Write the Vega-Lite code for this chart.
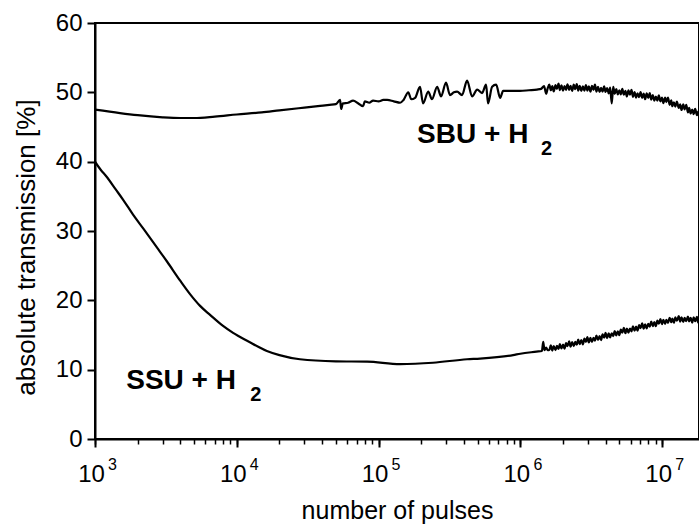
{
  "$schema": "https://vega.github.io/schema/vega-lite/v6.json",
  "width": 604,
  "height": 416,
  "autosize": "none",
  "padding": {"left": 95, "top": 23, "right": 0, "bottom": 85},
  "background": "white",
  "config": {
    "font": "Liberation Sans",
    "view": {"stroke": "black", "strokeWidth": 2},
    "axis": {"grid": false, "domainColor": "black", "domainWidth": 2, "tickColor": "black", "labelColor": "black", "titleColor": "black", "titleFontWeight": "normal"}
  },
  "datasets": {
    "curves": [
      {"series":"SBU","pulses":1000,"transmission":47.5},
      {"series":"SBU","pulses":1500,"transmission":47.0},
      {"series":"SBU","pulses":2000,"transmission":46.7},
      {"series":"SBU","pulses":3000,"transmission":46.4},
      {"series":"SBU","pulses":4000,"transmission":46.3},
      {"series":"SBU","pulses":5000,"transmission":46.3},
      {"series":"SBU","pulses":7000,"transmission":46.5},
      {"series":"SBU","pulses":10000,"transmission":46.8},
      {"series":"SBU","pulses":15000,"transmission":47.1},
      {"series":"SBU","pulses":20000,"transmission":47.4},
      {"series":"SBU","pulses":30000,"transmission":47.8},
      {"series":"SBU","pulses":38700,"transmission":48.05},
      {"series":"SBU","pulses":45000,"transmission":48.2},
      {"series":"SBU","pulses":50000,"transmission":48.3},
      {"series":"SBU","pulses":53500,"transmission":48.9},
      {"series":"SBU","pulses":54500,"transmission":47.6},
      {"series":"SBU","pulses":56000,"transmission":48.4},
      {"series":"SBU","pulses":61000,"transmission":48.5},
      {"series":"SBU","pulses":66100,"transmission":48.8},
      {"series":"SBU","pulses":72000,"transmission":48.4},
      {"series":"SBU","pulses":77800,"transmission":48.0},
      {"series":"SBU","pulses":80000,"transmission":48.7},
      {"series":"SBU","pulses":86000,"transmission":48.5},
      {"series":"SBU","pulses":91500,"transmission":48.8},
      {"series":"SBU","pulses":100000,"transmission":48.7},
      {"series":"SBU","pulses":108000,"transmission":48.9},
      {"series":"SBU","pulses":115000,"transmission":48.9},
      {"series":"SBU","pulses":128000,"transmission":48.7},
      {"series":"SBU","pulses":142000,"transmission":48.5},
      {"series":"SBU","pulses":150000,"transmission":48.9},
      {"series":"SBU","pulses":162000,"transmission":50.0},
      {"series":"SBU","pulses":170000,"transmission":49.0},
      {"series":"SBU","pulses":181000,"transmission":49.2},
      {"series":"SBU","pulses":196000,"transmission":50.8},
      {"series":"SBU","pulses":206000,"transmission":48.4},
      {"series":"SBU","pulses":224000,"transmission":50.1},
      {"series":"SBU","pulses":238000,"transmission":49.0},
      {"series":"SBU","pulses":259000,"transmission":50.8},
      {"series":"SBU","pulses":276000,"transmission":49.4},
      {"series":"SBU","pulses":299000,"transmission":51.4},
      {"series":"SBU","pulses":319000,"transmission":49.6},
      {"series":"SBU","pulses":340000,"transmission":50.0},
      {"series":"SBU","pulses":358000,"transmission":50.1},
      {"series":"SBU","pulses":388000,"transmission":49.6},
      {"series":"SBU","pulses":421000,"transmission":51.7},
      {"series":"SBU","pulses":457000,"transmission":49.4},
      {"series":"SBU","pulses":496000,"transmission":50.4},
      {"series":"SBU","pulses":537000,"transmission":49.9},
      {"series":"SBU","pulses":573000,"transmission":51.1},
      {"series":"SBU","pulses":592000,"transmission":48.4},
      {"series":"SBU","pulses":632000,"transmission":50.8},
      {"series":"SBU","pulses":675000,"transmission":51.1},
      {"series":"SBU","pulses":720000,"transmission":49.2},
      {"series":"SBU","pulses":756000,"transmission":50.2},
      {"series":"SBU","pulses":850000,"transmission":50.2},
      {"series":"SBU","pulses":995000,"transmission":50.2},
      {"series":"SBU","pulses":1150000,"transmission":50.3},
      {"series":"SBU","pulses":1310000,"transmission":50.4},
      {"series":"SBU","pulses":1400000,"transmission":50.5},
      {"series":"SBU","pulses":1470000,"transmission":50.9},
      {"series":"SBU","pulses":1520000,"transmission":49.8},
      {"series":"SBU","pulses":1560000,"transmission":50.6},
      {"series":"SBU","pulses":1600000,"transmission":51.1},
      {"series":"SBU","pulses":1640000,"transmission":50.3},
      {"series":"SBU","pulses":1680000,"transmission":50.9},
      {"series":"SBU","pulses":1720000,"transmission":50.15},
      {"series":"SBU","pulses":1770000,"transmission":51.05},
      {"series":"SBU","pulses":1810000,"transmission":50.5},
      {"series":"SBU","pulses":1860000,"transmission":51.25},
      {"series":"SBU","pulses":1900000,"transmission":50.3},
      {"series":"SBU","pulses":1950000,"transmission":51.0},
      {"series":"SBU","pulses":2000000,"transmission":50.25},
      {"series":"SBU","pulses":2050000,"transmission":50.9},
      {"series":"SBU","pulses":2100000,"transmission":50.35},
      {"series":"SBU","pulses":2150000,"transmission":51.15},
      {"series":"SBU","pulses":2210000,"transmission":50.35},
      {"series":"SBU","pulses":2260000,"transmission":50.95},
      {"series":"SBU","pulses":2320000,"transmission":50.2},
      {"series":"SBU","pulses":2380000,"transmission":51.1},
      {"series":"SBU","pulses":2440000,"transmission":50.45},
      {"series":"SBU","pulses":2500000,"transmission":51.2},
      {"series":"SBU","pulses":2560000,"transmission":50.25},
      {"series":"SBU","pulses":2620000,"transmission":50.95},
      {"series":"SBU","pulses":2690000,"transmission":50.2},
      {"series":"SBU","pulses":2760000,"transmission":50.85},
      {"series":"SBU","pulses":2830000,"transmission":50.25},
      {"series":"SBU","pulses":2900000,"transmission":51.05},
      {"series":"SBU","pulses":2970000,"transmission":50.25},
      {"series":"SBU","pulses":3040000,"transmission":50.85},
      {"series":"SBU","pulses":3120000,"transmission":50.1},
      {"series":"SBU","pulses":3200000,"transmission":50.95},
      {"series":"SBU","pulses":3280000,"transmission":50.35},
      {"series":"SBU","pulses":3360000,"transmission":51.1},
      {"series":"SBU","pulses":3440000,"transmission":50.1},
      {"series":"SBU","pulses":3530000,"transmission":50.8},
      {"series":"SBU","pulses":3620000,"transmission":50.05},
      {"series":"SBU","pulses":3710000,"transmission":50.65},
      {"series":"SBU","pulses":3800000,"transmission":50.1},
      {"series":"SBU","pulses":3900000,"transmission":50.85},
      {"series":"SBU","pulses":3990000,"transmission":50.05},
      {"series":"SBU","pulses":4090000,"transmission":50.6},
      {"series":"SBU","pulses":4200000,"transmission":49.85},
      {"series":"SBU","pulses":4300000,"transmission":50.7},
      {"series":"SBU","pulses":4410000,"transmission":48.4},
      {"series":"SBU","pulses":4520000,"transmission":50.8},
      {"series":"SBU","pulses":4630000,"transmission":49.8},
      {"series":"SBU","pulses":4750000,"transmission":50.45},
      {"series":"SBU","pulses":4870000,"transmission":49.7},
      {"series":"SBU","pulses":4990000,"transmission":50.3},
      {"series":"SBU","pulses":5110000,"transmission":49.7},
      {"series":"SBU","pulses":5240000,"transmission":50.5},
      {"series":"SBU","pulses":5370000,"transmission":49.65},
      {"series":"SBU","pulses":5510000,"transmission":50.2},
      {"series":"SBU","pulses":5640000,"transmission":49.4},
      {"series":"SBU","pulses":5790000,"transmission":50.3},
      {"series":"SBU","pulses":5930000,"transmission":49.65},
      {"series":"SBU","pulses":6080000,"transmission":50.35},
      {"series":"SBU","pulses":6230000,"transmission":49.35},
      {"series":"SBU","pulses":6390000,"transmission":50.05},
      {"series":"SBU","pulses":6550000,"transmission":49.25},
      {"series":"SBU","pulses":6710000,"transmission":49.85},
      {"series":"SBU","pulses":6880000,"transmission":49.3},
      {"series":"SBU","pulses":7050000,"transmission":50.05},
      {"series":"SBU","pulses":7230000,"transmission":49.2},
      {"series":"SBU","pulses":7410000,"transmission":49.8},
      {"series":"SBU","pulses":7590000,"transmission":49.0},
      {"series":"SBU","pulses":7780000,"transmission":49.85},
      {"series":"SBU","pulses":7980000,"transmission":49.2},
      {"series":"SBU","pulses":8180000,"transmission":49.9},
      {"series":"SBU","pulses":8380000,"transmission":48.95},
      {"series":"SBU","pulses":8590000,"transmission":49.6},
      {"series":"SBU","pulses":8810000,"transmission":48.8},
      {"series":"SBU","pulses":9030000,"transmission":49.4},
      {"series":"SBU","pulses":9250000,"transmission":48.8},
      {"series":"SBU","pulses":9480000,"transmission":49.55},
      {"series":"SBU","pulses":9720000,"transmission":48.7},
      {"series":"SBU","pulses":9970000,"transmission":49.25},
      {"series":"SBU","pulses":10200000,"transmission":48.45},
      {"series":"SBU","pulses":10500000,"transmission":49.25},
      {"series":"SBU","pulses":10700000,"transmission":48.6},
      {"series":"SBU","pulses":11000000,"transmission":49.25},
      {"series":"SBU","pulses":11300000,"transmission":48.2},
      {"series":"SBU","pulses":11600000,"transmission":48.85},
      {"series":"SBU","pulses":11800000,"transmission":48.0},
      {"series":"SBU","pulses":12100000,"transmission":48.55},
      {"series":"SBU","pulses":12400000,"transmission":47.95},
      {"series":"SBU","pulses":12700000,"transmission":48.65},
      {"series":"SBU","pulses":13100000,"transmission":47.75},
      {"series":"SBU","pulses":13400000,"transmission":48.25},
      {"series":"SBU","pulses":13700000,"transmission":47.45},
      {"series":"SBU","pulses":14100000,"transmission":48.25},
      {"series":"SBU","pulses":14400000,"transmission":47.55},
      {"series":"SBU","pulses":14800000,"transmission":48.2},
      {"series":"SBU","pulses":15200000,"transmission":47.1},
      {"series":"SBU","pulses":15500000,"transmission":47.75},
      {"series":"SBU","pulses":15900000,"transmission":46.95},
      {"series":"SBU","pulses":16300000,"transmission":47.5},
      {"series":"SBU","pulses":16700000,"transmission":46.85},
      {"series":"SBU","pulses":17100000,"transmission":47.6},
      {"series":"SBU","pulses":17600000,"transmission":46.7},
      {"series":"SBU","pulses":18000000,"transmission":47.25},
      {"series":"SBU","pulses":18200000,"transmission":46.8},
      {"series":"SSU","pulses":1000,"transmission":40.0},
      {"series":"SSU","pulses":1100,"transmission":38.8},
      {"series":"SSU","pulses":1200,"transmission":37.9},
      {"series":"SSU","pulses":1400,"transmission":36.0},
      {"series":"SSU","pulses":1580,"transmission":34.5},
      {"series":"SSU","pulses":1850,"transmission":32.4},
      {"series":"SSU","pulses":2200,"transmission":30.3},
      {"series":"SSU","pulses":2740,"transmission":27.6},
      {"series":"SSU","pulses":3220,"transmission":25.6},
      {"series":"SSU","pulses":4000,"transmission":22.8},
      {"series":"SSU","pulses":4680,"transmission":20.9},
      {"series":"SSU","pulses":5510,"transmission":19.2},
      {"series":"SSU","pulses":6480,"transmission":17.9},
      {"series":"SSU","pulses":8000,"transmission":16.3},
      {"series":"SSU","pulses":9420,"transmission":15.3},
      {"series":"SSU","pulses":12000,"transmission":14.1},
      {"series":"SSU","pulses":16300,"transmission":12.7},
      {"series":"SSU","pulses":20000,"transmission":12.1},
      {"series":"SSU","pulses":27900,"transmission":11.5},
      {"series":"SSU","pulses":50000,"transmission":11.2},
      {"series":"SSU","pulses":83000,"transmission":11.15},
      {"series":"SSU","pulses":142000,"transmission":10.8},
      {"series":"SSU","pulses":242000,"transmission":11.0},
      {"series":"SSU","pulses":421000,"transmission":11.5},
      {"series":"SSU","pulses":520000,"transmission":11.6},
      {"series":"SSU","pulses":889000,"transmission":12.1},
      {"series":"SSU","pulses":1000000,"transmission":12.3},
      {"series":"SSU","pulses":1300000,"transmission":12.6},
      {"series":"SSU","pulses":1420000,"transmission":12.7},
      {"series":"SSU","pulses":1450000,"transmission":14.0},
      {"series":"SSU","pulses":1480000,"transmission":12.8},
      {"series":"SSU","pulses":1520000,"transmission":13.2},
      {"series":"SSU","pulses":1560000,"transmission":12.8},
      {"series":"SSU","pulses":1600000,"transmission":12.83},
      {"series":"SSU","pulses":1640000,"transmission":13.52},
      {"series":"SSU","pulses":1680000,"transmission":12.76},
      {"series":"SSU","pulses":1720000,"transmission":13.41},
      {"series":"SSU","pulses":1770000,"transmission":12.82},
      {"series":"SSU","pulses":1810000,"transmission":13.42},
      {"series":"SSU","pulses":1860000,"transmission":12.98},
      {"series":"SSU","pulses":1900000,"transmission":13.7},
      {"series":"SSU","pulses":1950000,"transmission":13.06},
      {"series":"SSU","pulses":2000000,"transmission":13.61},
      {"series":"SSU","pulses":2050000,"transmission":13.02},
      {"series":"SSU","pulses":2100000,"transmission":13.84},
      {"series":"SSU","pulses":2150000,"transmission":13.38},
      {"series":"SSU","pulses":2210000,"transmission":14.07},
      {"series":"SSU","pulses":2260000,"transmission":13.31},
      {"series":"SSU","pulses":2320000,"transmission":13.98},
      {"series":"SSU","pulses":2380000,"transmission":13.4},
      {"series":"SSU","pulses":2440000,"transmission":14.01},
      {"series":"SSU","pulses":2500000,"transmission":13.6},
      {"series":"SSU","pulses":2560000,"transmission":14.33},
      {"series":"SSU","pulses":2620000,"transmission":13.69},
      {"series":"SSU","pulses":2690000,"transmission":14.25},
      {"series":"SSU","pulses":2760000,"transmission":13.66},
      {"series":"SSU","pulses":2830000,"transmission":14.48},
      {"series":"SSU","pulses":2900000,"transmission":14.01},
      {"series":"SSU","pulses":2970000,"transmission":14.7},
      {"series":"SSU","pulses":3040000,"transmission":13.93},
      {"series":"SSU","pulses":3120000,"transmission":14.58},
      {"series":"SSU","pulses":3200000,"transmission":14.0},
      {"series":"SSU","pulses":3280000,"transmission":14.6},
      {"series":"SSU","pulses":3360000,"transmission":14.18},
      {"series":"SSU","pulses":3440000,"transmission":14.91},
      {"series":"SSU","pulses":3530000,"transmission":14.28},
      {"series":"SSU","pulses":3620000,"transmission":14.85},
      {"series":"SSU","pulses":3710000,"transmission":14.26},
      {"series":"SSU","pulses":3800000,"transmission":15.08},
      {"series":"SSU","pulses":3900000,"transmission":14.63},
      {"series":"SSU","pulses":3990000,"transmission":15.32},
      {"series":"SSU","pulses":4090000,"transmission":14.56},
      {"series":"SSU","pulses":4200000,"transmission":15.23},
      {"series":"SSU","pulses":4300000,"transmission":14.65},
      {"series":"SSU","pulses":4410000,"transmission":15.25},
      {"series":"SSU","pulses":4520000,"transmission":14.84},
      {"series":"SSU","pulses":4630000,"transmission":15.58},
      {"series":"SSU","pulses":4750000,"transmission":14.96},
      {"series":"SSU","pulses":4870000,"transmission":15.53},
      {"series":"SSU","pulses":4990000,"transmission":14.97},
      {"series":"SSU","pulses":5110000,"transmission":15.79},
      {"series":"SSU","pulses":5240000,"transmission":15.33},
      {"series":"SSU","pulses":5370000,"transmission":16.02},
      {"series":"SSU","pulses":5510000,"transmission":15.26},
      {"series":"SSU","pulses":5640000,"transmission":15.92},
      {"series":"SSU","pulses":5790000,"transmission":15.34},
      {"series":"SSU","pulses":5930000,"transmission":15.94},
      {"series":"SSU","pulses":6080000,"transmission":15.53},
      {"series":"SSU","pulses":6230000,"transmission":16.26},
      {"series":"SSU","pulses":6390000,"transmission":15.63},
      {"series":"SSU","pulses":6550000,"transmission":16.2},
      {"series":"SSU","pulses":6710000,"transmission":15.62},
      {"series":"SSU","pulses":6880000,"transmission":16.44},
      {"series":"SSU","pulses":7050000,"transmission":15.99},
      {"series":"SSU","pulses":7230000,"transmission":16.67},
      {"series":"SSU","pulses":7410000,"transmission":15.9},
      {"series":"SSU","pulses":7590000,"transmission":16.55},
      {"series":"SSU","pulses":7780000,"transmission":15.95},
      {"series":"SSU","pulses":7980000,"transmission":16.62},
      {"series":"SSU","pulses":8180000,"transmission":16.2},
      {"series":"SSU","pulses":8380000,"transmission":16.93},
      {"series":"SSU","pulses":8590000,"transmission":16.29},
      {"series":"SSU","pulses":8810000,"transmission":16.85},
      {"series":"SSU","pulses":9030000,"transmission":16.26},
      {"series":"SSU","pulses":9250000,"transmission":17.08},
      {"series":"SSU","pulses":9480000,"transmission":16.62},
      {"series":"SSU","pulses":9720000,"transmission":17.31},
      {"series":"SSU","pulses":9970000,"transmission":16.56},
      {"series":"SSU","pulses":10200000,"transmission":17.19},
      {"series":"SSU","pulses":10500000,"transmission":16.6},
      {"series":"SSU","pulses":10700000,"transmission":17.18},
      {"series":"SSU","pulses":11000000,"transmission":16.76},
      {"series":"SSU","pulses":11300000,"transmission":17.48},
      {"series":"SSU","pulses":11600000,"transmission":16.85},
      {"series":"SSU","pulses":11800000,"transmission":17.38},
      {"series":"SSU","pulses":12100000,"transmission":16.77},
      {"series":"SSU","pulses":12400000,"transmission":17.56},
      {"series":"SSU","pulses":12700000,"transmission":17.06},
      {"series":"SSU","pulses":13100000,"transmission":17.72},
      {"series":"SSU","pulses":13400000,"transmission":16.92},
      {"series":"SSU","pulses":13700000,"transmission":17.53},
      {"series":"SSU","pulses":14100000,"transmission":16.9},
      {"series":"SSU","pulses":14400000,"transmission":17.46},
      {"series":"SSU","pulses":14800000,"transmission":17.0},
      {"series":"SSU","pulses":15200000,"transmission":17.67},
      {"series":"SSU","pulses":15500000,"transmission":16.97},
      {"series":"SSU","pulses":15900000,"transmission":17.46},
      {"series":"SSU","pulses":16300000,"transmission":16.79},
      {"series":"SSU","pulses":16700000,"transmission":17.53},
      {"series":"SSU","pulses":17100000,"transmission":16.99},
      {"series":"SSU","pulses":17600000,"transmission":17.6},
      {"series":"SSU","pulses":18000000,"transmission":16.76},
      {"series":"SSU","pulses":18200000,"transmission":17.1}
    ],
    "labels": [
      {"pulses": 187000, "transmission": 42.7, "label": "SBU + H", "sub": "2"},
      {"pulses": 1660, "transmission": 7.2, "label": "SSU + H", "sub": "2"}
    ]
  },
  "layer": [
    {
      "data": {"name": "curves"},
      "mark": {"type": "line", "color": "black", "strokeWidth": 2.2, "clip": true, "interpolate": "monotone"},
      "encoding": {
        "x": {
          "field": "pulses", "type": "quantitative",
          "scale": {"type": "log", "domain": [1000, 18200000], "nice": false},
          "axis": {
            "orient": "bottom",
            "values": [1000, 10000, 100000, 1000000, 10000000],
            "labelExpr": "'10'",
            "tickSize": 8, "tickWidth": 2,
            "labelFontSize": 24, "labelPadding": 15, "labelOffset": -4, "labelFlush": false, "labelOverlap": false,
            "title": "number of pulses", "titleFontSize": 25, "titlePadding": 12
          }
        },
        "y": {
          "field": "transmission", "type": "quantitative",
          "scale": {"domain": [0, 60], "nice": false, "zero": false},
          "axis": {
            "values": [0, 10, 20, 30, 40, 50, 60],
            "tickSize": 8, "tickWidth": 2,
            "labelFontSize": 24, "labelPadding": 5,
            "title": "absolute transmission [%]", "titleFontSize": 26, "titlePadding": 16, "titleY": 224
          }
        },
        "detail": {"field": "series", "type": "nominal"}
      }
    },
    {
      "data": {"name": "labels"},
      "mark": {"type": "text", "align": "left", "baseline": "alphabetic", "fontSize": 28, "fontWeight": "bold", "color": "black"},
      "encoding": {
        "x": {
          "field": "pulses", "type": "quantitative",
          "axis": {
            "orient": "bottom",
            "values": [1000,2000,3000,4000,5000,6000,7000,8000,9000,10000,20000,30000,40000,50000,60000,70000,80000,90000,100000,200000,300000,400000,500000,600000,700000,800000,900000,1000000,2000000,3000000,4000000,5000000,6000000,7000000,8000000,9000000,10000000],
            "labelExpr": "datum.value == 1000 ? '3' : datum.value == 10000 ? '4' : datum.value == 100000 ? '5' : datum.value == 1000000 ? '6' : datum.value == 10000000 ? '7' : ''",
            "tickSize": 5, "tickWidth": 1.5, "domain": false, "title": null,
            "labelFontSize": 16, "labelPadding": 12, "labelOffset": 17, "labelFlush": false, "labelOverlap": false
          }
        },
        "y": {"field": "transmission", "type": "quantitative"},
        "text": {"field": "label"}
      }
    },
    {
      "data": {"name": "labels"},
      "mark": {"type": "text", "align": "left", "baseline": "alphabetic", "fontSize": 20, "fontWeight": "bold", "color": "black", "dx": 124, "dy": 12},
      "encoding": {
        "x": {"field": "pulses", "type": "quantitative", "axis": null},
        "y": {"field": "transmission", "type": "quantitative"},
        "text": {"field": "sub"}
      }
    }
  ],
  "resolve": {"axis": {"x": "independent"}}
}
